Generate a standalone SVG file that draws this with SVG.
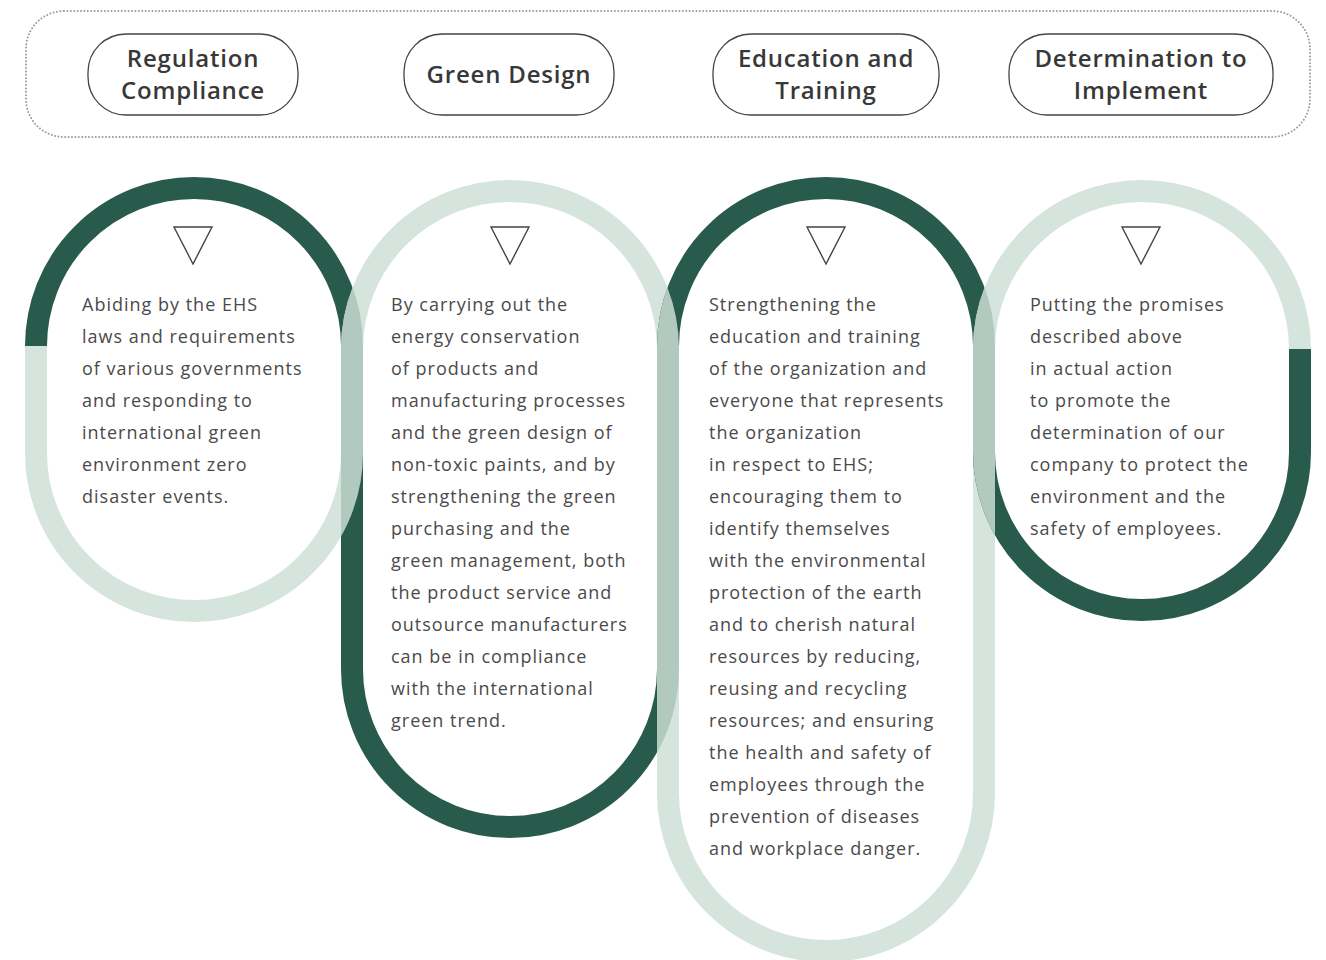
<svg xmlns="http://www.w3.org/2000/svg" width="1326" height="960" viewBox="0 0 1326 960">
<style>
.dark{fill:none;stroke:#285B4B;stroke-width:22}
.light{fill:none;stroke:#D6E4DE;stroke-width:22}
.mid{fill:none;stroke:#B2C9C0;stroke-width:22}
.mk{fill:none;stroke:#fff;stroke-width:22}
.pill{fill:#fff;stroke:#444;stroke-width:1.3}
.ttl{font-family:"Open Sans","Liberation Sans",sans-serif;font-weight:600;font-size:24px;fill:#383838;text-anchor:middle;letter-spacing:0.8px}
.body{font-family:"Open Sans","Liberation Sans",sans-serif;font-size:18px;fill:#4a4a4a;letter-spacing:1px}
.tri{fill:#fff;stroke:#444;stroke-width:1.4;stroke-linejoin:miter}
</style>
<defs>
<path id="o1" d="M36 346 A158 158 0 0 1 352 346 L352 453 A158 158 0 0 1 36 453 Z"/>
<path id="o2" d="M352 349 A158 158 0 0 1 668 349 L668 669 A158 158 0 0 1 352 669 Z"/>
<path id="o3" d="M668 346 A158 158 0 0 1 984 346 L984 793 A158 158 0 0 1 668 793 Z"/>
<path id="o4" d="M984 349 A158 158 0 0 1 1300 349 L1300 452 A158 158 0 0 1 984 452 Z"/>
<mask id="m1" maskUnits="userSpaceOnUse" x="0" y="0" width="1326" height="960"><use href="#o1" class="mk"/></mask>
<mask id="m2" maskUnits="userSpaceOnUse" x="0" y="0" width="1326" height="960"><use href="#o2" class="mk"/></mask>
<mask id="m3" maskUnits="userSpaceOnUse" x="0" y="0" width="1326" height="960"><use href="#o3" class="mk"/></mask>
</defs>

<g id="header-frame">
<rect x="26" y="11" width="1284" height="126" rx="38" ry="38" fill="none" stroke="#9a9a9a" stroke-width="2" stroke-dasharray="0 3.4" stroke-linecap="round"/>
</g>

<g id="pill-regulation">
<rect class="pill" x="88" y="34" width="210" height="81" rx="38"/>
<text class="ttl" x="193" y="67">Regulation</text>
<text class="ttl" x="193" y="99">Compliance</text>
</g>
<g id="pill-green">
<rect class="pill" x="404" y="34" width="210" height="81" rx="38"/>
<text class="ttl" x="509" y="83">Green Design</text>
</g>
<g id="pill-education">
<rect class="pill" x="713" y="34" width="226" height="81" rx="38"/>
<text class="ttl" x="826" y="67">Education and</text>
<text class="ttl" x="826" y="99">Training</text>
</g>
<g id="pill-determination">
<rect class="pill" x="1009" y="34" width="264" height="81" rx="38"/>
<text class="ttl" x="1141" y="67">Determination to</text>
<text class="ttl" x="1141" y="99">Implement</text>
</g>

<g id="capsules">
<path class="dark" d="M36 346 A158 158 0 0 1 352 346"/>
<path class="light" d="M36 346 L36 453 A158 158 0 0 0 352 453 L352 346"/>
<path class="light" d="M352 349 A158 158 0 0 1 668 349"/>
<path class="dark" d="M352 349 L352 669 A158 158 0 0 0 668 669 L668 349"/>
<path class="dark" d="M668 346 A158 158 0 0 1 984 346"/>
<path class="light" d="M668 346 L668 793 A158 158 0 0 0 984 793 L984 346"/>
<path class="light" d="M984 349 A158 158 0 0 1 1300 349"/>
<path class="dark" d="M984 349 L984 452 A158 158 0 0 0 1300 452 L1300 349"/>
<g mask="url(#m1)"><use href="#o2" class="mid"/></g>
<g mask="url(#m2)"><use href="#o3" class="mid"/></g>
<g mask="url(#m3)"><use href="#o4" class="mid"/></g>
</g>

<g id="node-regulation">
<polygon class="tri" points="174,227 212,227 193,264"/>
<text class="body">
<tspan x="82" y="311">Abiding by the EHS</tspan>
<tspan x="82" y="343">laws and requirements</tspan>
<tspan x="82" y="375">of various governments</tspan>
<tspan x="82" y="407">and responding to</tspan>
<tspan x="82" y="439">international green</tspan>
<tspan x="82" y="471">environment zero</tspan>
<tspan x="82" y="503">disaster events.</tspan>
</text>
</g>

<g id="node-green">
<polygon class="tri" points="491,227 529,227 510,264"/>
<text class="body">
<tspan x="391" y="311">By carrying out the</tspan>
<tspan x="391" y="343">energy conservation</tspan>
<tspan x="391" y="375">of products and</tspan>
<tspan x="391" y="407">manufacturing processes</tspan>
<tspan x="391" y="439">and the green design of</tspan>
<tspan x="391" y="471">non-toxic paints, and by</tspan>
<tspan x="391" y="503">strengthening the green</tspan>
<tspan x="391" y="535">purchasing and the</tspan>
<tspan x="391" y="567">green management, both</tspan>
<tspan x="391" y="599">the product service and</tspan>
<tspan x="391" y="631">outsource manufacturers</tspan>
<tspan x="391" y="663">can be in compliance</tspan>
<tspan x="391" y="695">with the international</tspan>
<tspan x="391" y="727">green trend.</tspan>
</text>
</g>

<g id="node-education">
<polygon class="tri" points="807,227 845,227 826,264"/>
<text class="body">
<tspan x="709" y="311">Strengthening the</tspan>
<tspan x="709" y="343">education and training</tspan>
<tspan x="709" y="375">of the organization and</tspan>
<tspan x="709" y="407">everyone that represents</tspan>
<tspan x="709" y="439">the organization</tspan>
<tspan x="709" y="471">in respect to EHS;</tspan>
<tspan x="709" y="503">encouraging them to</tspan>
<tspan x="709" y="535">identify themselves</tspan>
<tspan x="709" y="567">with the environmental</tspan>
<tspan x="709" y="599">protection of the earth</tspan>
<tspan x="709" y="631">and to cherish natural</tspan>
<tspan x="709" y="663">resources by reducing,</tspan>
<tspan x="709" y="695">reusing and recycling</tspan>
<tspan x="709" y="727">resources; and ensuring</tspan>
<tspan x="709" y="759">the health and safety of</tspan>
<tspan x="709" y="791">employees through the</tspan>
<tspan x="709" y="823">prevention of diseases</tspan>
<tspan x="709" y="855">and workplace danger.</tspan>
</text>
</g>

<g id="node-determination">
<polygon class="tri" points="1122,227 1160,227 1141,264"/>
<text class="body">
<tspan x="1030" y="311">Putting the promises</tspan>
<tspan x="1030" y="343">described above</tspan>
<tspan x="1030" y="375">in actual action</tspan>
<tspan x="1030" y="407">to promote the</tspan>
<tspan x="1030" y="439">determination of our</tspan>
<tspan x="1030" y="471">company to protect the</tspan>
<tspan x="1030" y="503">environment and the</tspan>
<tspan x="1030" y="535">safety of employees.</tspan>
</text>
</g>
</svg>
